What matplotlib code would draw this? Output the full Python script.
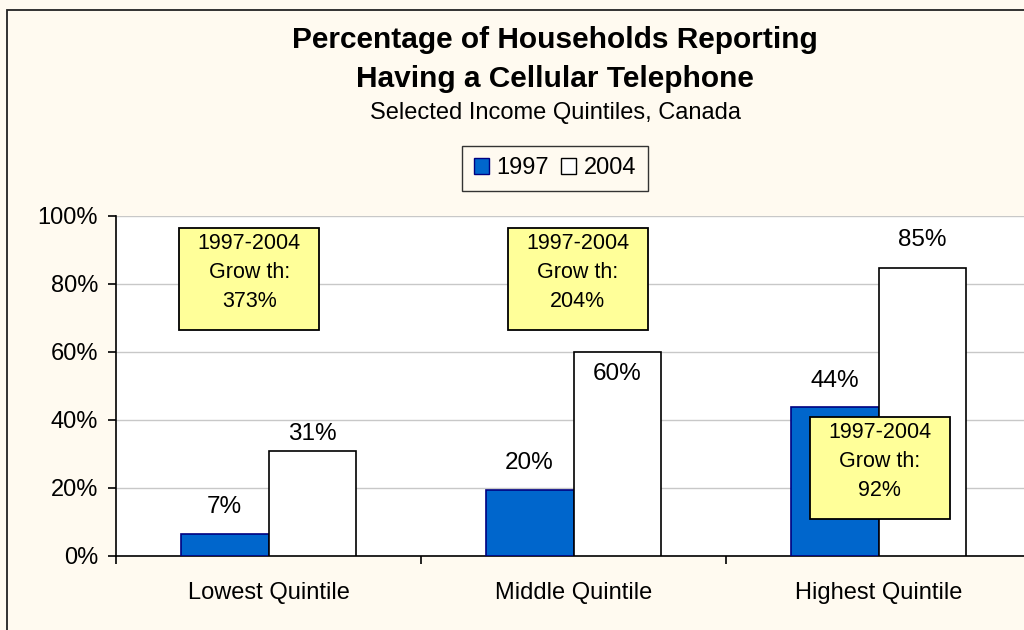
import numpy as np
import matplotlib.pyplot as plt
from matplotlib.patches import Rectangle, Patch

plt.rcParams['font.family'] = ['Liberation Sans', 'DejaVu Sans']

# data
quintiles = ["Lowest Quintile", "Middle Quintile", "Highest Quintile"]
pct_1997 = [6.6, 19.5, 43.8]
pct_2004 = [31.0, 60.0, 84.7]
growth = ["373%", "204%", "92%"]

BG = "#FFFAF0"
BLUE = "#0066CC"

fig = plt.figure(figsize=(10.24, 6.3), dpi=100, facecolor=BG)
W, H = 1024.0, 630.0

# outer chart border (runs off the right and bottom edge)
fig.patches.append(Rectangle((7 / W, -0.02), 1.05, 1 - 10 / H + 0.02,
                             transform=fig.transFigure, fill=False,
                             edgecolor="#222222", lw=1.3))

# plot area: categories span 116..1031 px, 0..100% spans 556..216 px
ax = fig.add_axes([116 / W, (H - 556) / H, 915 / W, 340 / H])
ax.set_facecolor("white")
ax.set_xlim(-0.5, 2.5)
ax.set_ylim(0, 100)

x = np.arange(len(quintiles))
bw = 0.288
ax.bar(x - bw / 2, pct_1997, bw, color=BLUE, edgecolor="#000080", lw=1.2, zorder=3)
ax.bar(x + bw / 2, pct_2004, bw, color="white", edgecolor="black", lw=1.2, zorder=3)

# value labels (Excel had them nudged by hand)
off_1997 = [11, 11, 11]
off_2004 = [4, -24, 12]
for i in range(len(quintiles)):
    ax.annotate(f"{pct_1997[i]:.0f}%", (x[i] - bw / 2, pct_1997[i]),
                xytext=(0, off_1997[i]), textcoords="offset points",
                ha="center", va="bottom", fontsize=17.5, zorder=5)
    ax.annotate(f"{pct_2004[i]:.0f}%", (x[i] + bw / 2, pct_2004[i]),
                xytext=(0, off_2004[i]), textcoords="offset points",
                ha="center", va="bottom", fontsize=17.5, zorder=5)

# growth call-out boxes
boxes = [(-0.293, 66.5), (0.785, 66.5), (1.775, 10.9)]
for (bx, by), g in zip(boxes, growth):
    ax.add_patch(Rectangle((bx, by), 0.459, 30, facecolor="#FFFF99",
                           edgecolor="black", lw=1.3, zorder=6))
    ax.text(bx + 0.2295, by + 17, "1997-2004\nGrow th:\n" + g, ha="center",
            va="center", fontsize=15.5, linespacing=1.5, zorder=7)

ax.set_yticks(np.arange(0, 101, 20))
ax.set_yticklabels([f"{v}%" for v in range(0, 101, 20)], fontsize=17)
ax.yaxis.grid(True, color="#C8C8C8", lw=1.0, zorder=0)
ax.set_axisbelow(True)

ax.set_xticks([-0.5, 0.5, 1.5, 2.5])
ax.set_xticklabels([])
ax.set_xticks(x, minor=True)
ax.set_xticklabels(quintiles, minor=True, fontsize=17)
ax.tick_params(axis="x", which="minor", length=0, pad=19)
ax.tick_params(axis="x", which="major", length=6, direction="out", width=1.2)
ax.tick_params(axis="y", length=6, direction="out", width=1.2, pad=7)

for s in ["top", "right"]:
    ax.spines[s].set_visible(False)
ax.spines["left"].set_linewidth(1.2)
ax.spines["bottom"].set_linewidth(1.2)

fig.text(555 / W, 1 - 40 / H, "Percentage of Households Reporting", ha="center",
         va="center", fontsize=21.5, fontweight="bold")
fig.text(555 / W, 1 - 79 / H, "Having a Cellular Telephone", ha="center",
         va="center", fontsize=21.5, fontweight="bold")
fig.text(555 / W, 1 - 113 / H, "Selected Income Quintiles, Canada", ha="center",
         va="center", fontsize=17)

handles = [Patch(facecolor=BLUE, edgecolor="#000080"),
           Patch(facecolor="white", edgecolor="black")]
leg = fig.legend(handles, ["1997", "2004"], loc="center",
                 bbox_to_anchor=(555 / W, 1 - 168.5 / H), ncol=2, fontsize=17,
                 frameon=True, fancybox=False, edgecolor="#333333",
                 facecolor=BG, framealpha=1, handlelength=0.65, handleheight=0.65,
                 handletextpad=0.3, columnspacing=0.5, borderpad=0.5)
leg.get_frame().set_linewidth(1.0)

fig.savefig("out.png", dpi=100, facecolor=BG)
